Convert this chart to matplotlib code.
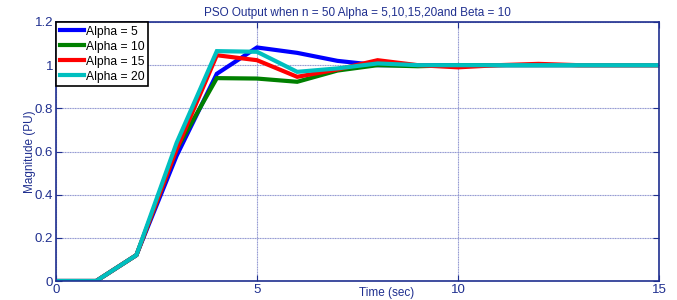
import matplotlib
matplotlib.use("Agg")
import matplotlib.pyplot as plt

time = [0, 1, 2, 3, 4, 5, 6, 7, 8, 9, 10, 11, 12, 13, 14, 15]
alpha5 = [0, 0, 0.12, 0.58, 0.96, 1.082, 1.057, 1.02, 1.0, 1.0, 1.0, 1.0, 1.0, 1.0, 1.0, 1.0]
alpha10 = [0, 0, 0.12, 0.61, 0.94, 0.938, 0.923, 0.975, 1.0, 0.995, 1.0, 1.0, 1.0, 1.0, 1.0, 1.0]
alpha15 = [0, 0, 0.12, 0.61, 1.046, 1.023, 0.946, 0.98, 1.023, 1.0, 0.99, 1.0, 1.006, 1.0, 1.0, 1.0]
alpha20 = [0, 0, 0.12, 0.64, 1.065, 1.062, 0.969, 0.985, 1.008, 1.0, 1.0, 1.0, 1.0, 1.0, 1.0, 1.0]
labels = ["Alpha = 5", "Alpha = 10", "Alpha = 15", "Alpha = 20"]
colors = ["#0000ff", "#008000", "#ff0000", "#00bfbf"]
title = "PSO Output when n = 50 Alpha = 5,10,15,20and Beta = 10"

plt.rcParams['font.family'] = ['Liberation Sans', 'DejaVu Sans']
navy = "#1f2f8f"

fig = plt.figure(figsize=(6.77, 3.0), dpi=100)
ax = fig.add_axes([56/677, 1-281/300, (659-56)/677, (281-22)/300])

for ys, lab, c in zip([alpha5, alpha10, alpha15, alpha20], labels, colors):
    ax.plot(time, ys, color=c, lw=3, label=lab, solid_joinstyle='miter')

ax.set_xlim(0, 15)
ax.set_ylim(0, 1.2)
ax.set_xticks([0, 5, 10, 15])
ax.set_yticks([0, 0.2, 0.4, 0.6, 0.8, 1.0, 1.2])
ax.set_yticklabels(["0", "0.2", "0.4", "0.6", "0.8", "1", "1.2"])
ax.grid(True, color="#8f95d0", lw=0.8, ls=(0, (1, 0.5)))
ax.tick_params(direction='in', top=True, right=True, colors=navy, labelsize=9.5, length=4, pad=2)
for s in ax.spines.values():
    s.set_color(navy)
    s.set_linewidth(1.2)

ax.set_title(title, fontsize=8.5, color=navy, pad=4)
ax.text((387-56)/603, -12/259, "Time (sec)", transform=ax.transAxes,
        fontsize=8.5, color=navy, ha='center', va='center')
ax.set_ylabel("Magnitude (PU)", fontsize=8.5, color=navy, labelpad=-1)

leg = ax.legend(loc='upper left', fontsize=8.7, frameon=True, fancybox=False,
                edgecolor='black', borderaxespad=0, handlelength=2.0,
                handletextpad=0.2, labelspacing=0.25, borderpad=0.3, framealpha=1)
leg.get_frame().set_linewidth(1.2)

fig.savefig("out.png", dpi=100)
